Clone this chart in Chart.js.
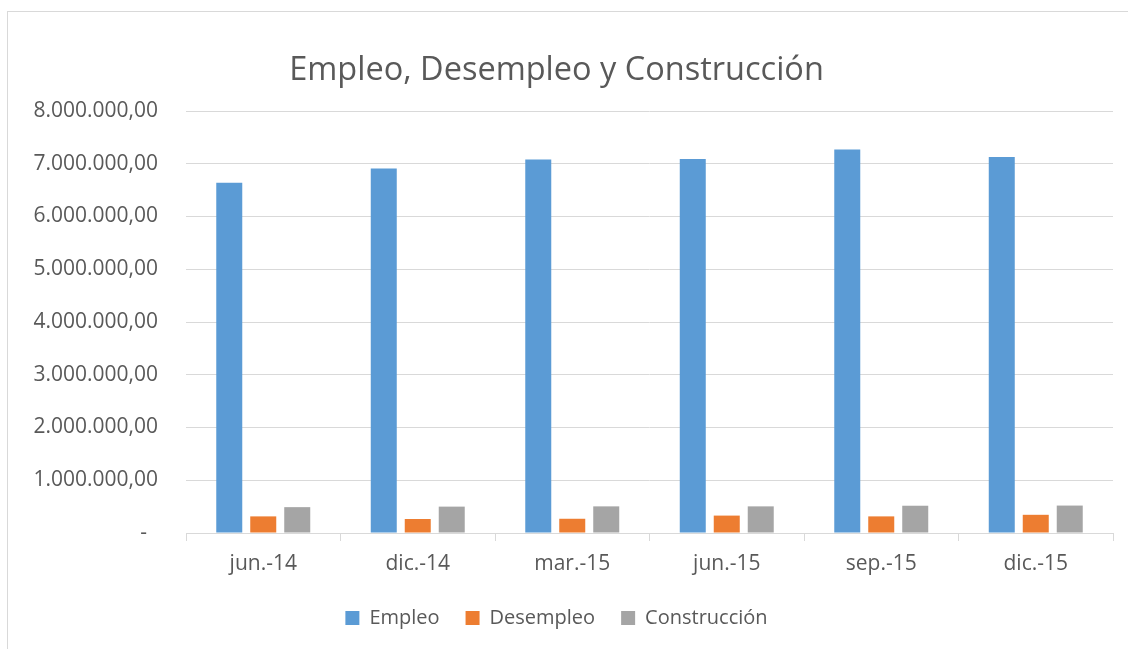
<!DOCTYPE html>
<html><head><meta charset="utf-8">
<script src="https://cdn.jsdelivr.net/npm/chart.js@4/dist/chart.umd.min.js"></script>
<style>
html,body{margin:0;padding:0;background:#fff;overflow:hidden;}
#frame{position:absolute;left:7px;top:11px;width:1300px;height:800px;border:1px solid #d9d9d9;box-sizing:border-box;}
#wrap{position:absolute;left:0;top:0;width:1128px;height:649px;}
</style></head>
<body>
<div id="frame"></div>
<div id="wrap"><canvas id="c" width="1128" height="649"></canvas></div>
<script>
const categories = ["jun.-14","dic.-14","mar.-15","jun.-15","sep.-15","dic.-15"];
const empleo = [6640000, 6910000, 7080000, 7090000, 7270000, 7130000];
const desempleo = [315000, 265000, 270000, 330000, 315000, 345000];
const construccion = [490000, 500000, 505000, 505000, 517000, 520000];
const seriesNames = ["Empleo","Desempleo","Construcción"];
const yTicks = [0,1000000,2000000,3000000,4000000,5000000,6000000,7000000,8000000];

function fmt(v){
  if(v===0) return "-  ";
  const s = Math.round(v).toString().replace(/\B(?=(\d{3})+(?!\d))/g,".");
  return s + ",00";
}
const FONT = "'Open Sans', Lato, sans-serif";
const TXT = "#595959";
Chart.defaults.font.family = FONT;
Chart.defaults.color = TXT;

new Chart(document.getElementById('c'), {
  type:'bar',
  data:{
    labels: categories,
    datasets:[
      {label:seriesNames[0], data:empleo, backgroundColor:'#5B9BD5'},
      {label:seriesNames[1], data:desempleo, backgroundColor:'#ED7D31'},
      {label:seriesNames[2], data:construccion, backgroundColor:'#A5A5A5'}
    ]
  },
  options:{
    responsive:false,
    animation:false,
    devicePixelRatio:1,
    datasets:{bar:{categoryPercentage:0.66, barPercentage:0.765}},
    layout:{padding:{left:0,right:15,top:0,bottom:11}},
    plugins:{
      title:{display:true,text:"Empleo, Desempleo y Construcción",font:{size:32.5,weight:'normal',family:FONT},color:TXT,padding:{top:51,bottom:21}},
      legend:{position:'bottom',labels:{boxWidth:14,boxHeight:14,font:{size:20},color:TXT,padding:26}},
      tooltip:{enabled:false}
    },
    scales:{
      y:{min:0,max:8000000,
        afterBuildTicks:(s)=>{s.ticks = yTicks.map(v=>({value:v}));},
        afterFit:(s)=>{s.width=186;},
        ticks:{callback:(v)=>fmt(v),font:{size:21},color:TXT,padding:28},
        grid:{color:'#d9d9d9',drawTicks:false,lineWidth:1},
        border:{display:false}
      },
      x:{
        afterFit:(s)=>{s.height=49;},
        ticks:{font:{size:21},color:TXT,padding:10},
        grid:{offset:true,drawOnChartArea:false,color:'#d9d9d9',tickLength:8},
        border:{display:true,color:'#d9d9d9',width:1}
      }
    }
  }
});
</script>
</body></html>
